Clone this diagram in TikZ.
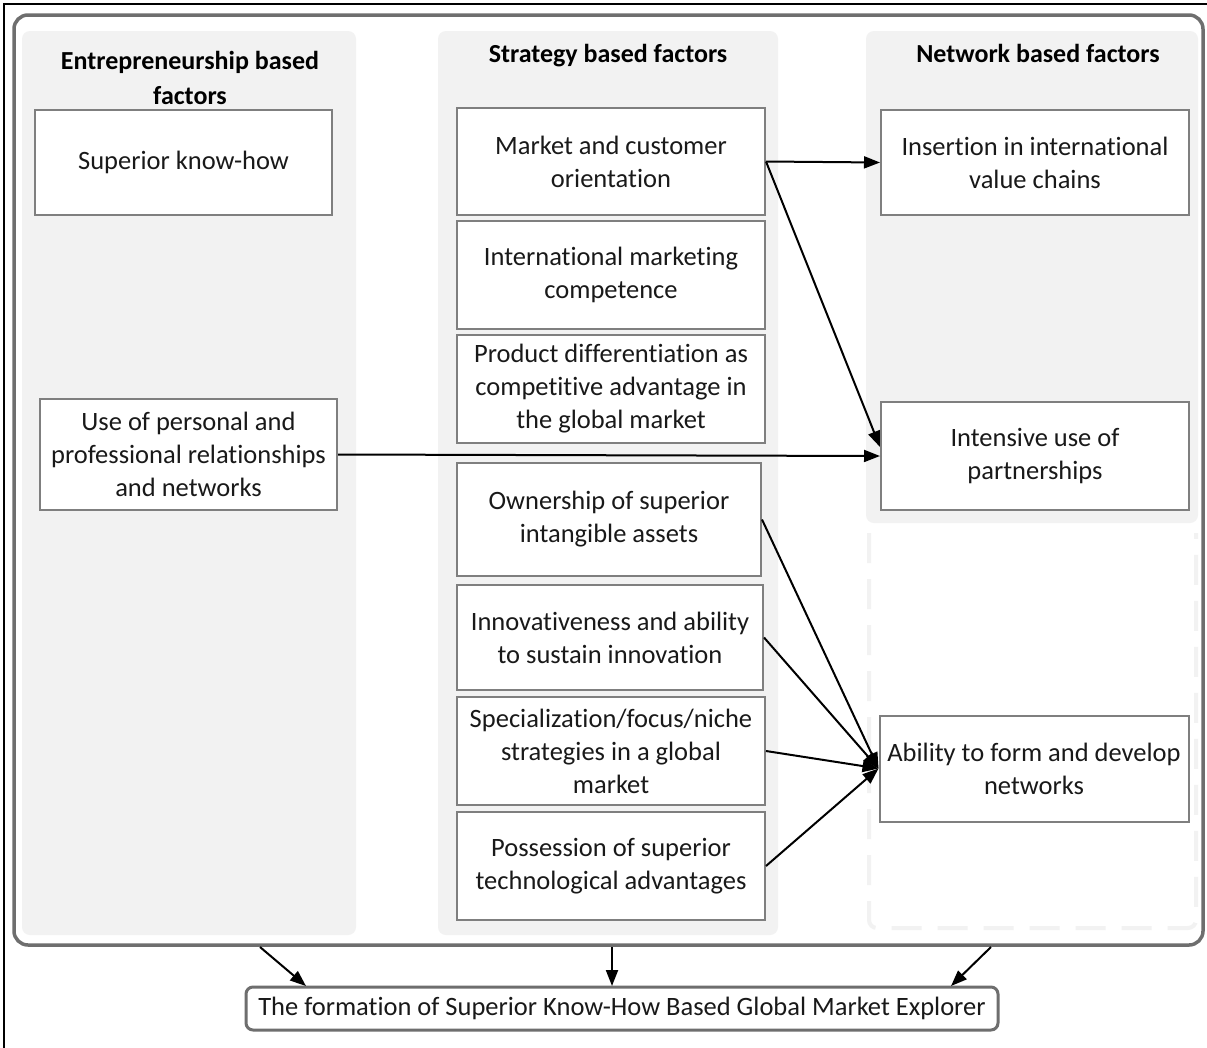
\documentclass[tikz,border=0pt]{standalone}
\usepackage{fontspec}
\setmainfont[Ligatures=NoCommon]{Carlito}
\usetikzlibrary{arrows.meta,calc}
\definecolor{colgray}{HTML}{F2F2F2}
\definecolor{boxgray}{HTML}{7F7F7F}
\definecolor{framegray}{HTML}{6E6E6E}
\begin{document}
\begin{tikzpicture}[x=1pt,y=-1pt,
  factor/.style={draw=boxgray, line width=2pt, fill=white, align=center,
    inner sep=0pt, text=black!90, font=\fontsize{26.5}{33}\selectfont},
  column/.style={fill=colgray, rounded corners=8pt},
  head/.style={align=center, font=\bfseries\fontsize{26}{35}\selectfont},
  link/.style={-{Triangle[length=16pt,width=12pt]}, line width=2pt},
  result/.style={draw=framegray, line width=3pt, rounded corners=7pt, fill=white,
    inner sep=0pt, text=black!90, font=\fontsize{26.5}{30}\selectfont}]
\clip (0,0) rectangle (1207,1047);
\useasboundingbox (0,0) rectangle (1207,1047);
\fill[white] (0,0) rectangle (1207,1047);
% outer border
\draw[black, line width=1.6pt] (4,1060) -- (4,4) -- (1220,4);
% main rounded frame
\draw[framegray, line width=3.5pt, rounded corners=14pt] (14,15) rectangle (1203,945);
% column backgrounds
\fill[column] (22,31) rectangle (356,935);
\fill[column] (438,31) rectangle (778,935);
\fill[column] (866,31) rectangle (1198,523);
\draw[colgray, line width=4pt, dash pattern=on 30pt off 16pt, rounded corners=8pt]
  (869,533) -- (869,928) -- (1196,928) -- (1196,533);
% column headings
\node[head] (hL) at (190,78) {Entrepreneurship based\\factors};
\node[head] (hM) at (608,56) {Strategy based factors};
\node[head] (hR) at (1038,53) {Network based factors};
% entrepreneurship based factors
\node[factor, minimum width=297pt, minimum height=105pt] (know) at (183.5,162.5) {Superior know-how};
\node[factor, minimum width=297pt, minimum height=111pt] (personal) at (188.5,454.5)
  {Use of personal and\\professional relationships\\and networks};
% strategy based factors
\node[factor, minimum width=308pt, minimum height=107pt] (market) at (611,161.5) {Market and customer\\orientation};
\node[factor, minimum width=308pt, minimum height=108pt] (intl) at (611,275) {International marketing\\competence};
\node[factor, minimum width=308pt, minimum height=108pt] (prod) at (611,389) {Product differentiation as\\competitive advantage in\\the global market};
\node[factor, minimum width=304pt, minimum height=113pt] (own) at (609,519.5) {Ownership of superior\\intangible assets};
\node[factor, minimum width=306pt, minimum height=105pt] (innov) at (610,637.5) {Innovativeness and ability\\to sustain innovation};
\node[factor, minimum width=308pt, minimum height=108pt] (spec) at (611,751) {Specialization/focus/niche\\strategies in a global\\market};
\node[factor, minimum width=308pt, minimum height=108pt] (poss) at (611,866) {Possession of superior\\technological advantages};
% network based factors
\node[factor, minimum width=308pt, minimum height=105pt] (insert) at (1035,162.5) {Insertion in international\\value chains};
\node[factor, minimum width=308pt, minimum height=108pt] (intensive) at (1035,456) {Intensive use of\\partnerships};
\node[factor, minimum width=309pt, minimum height=106pt] (ability) at (1034,768.5) {Ability to form and develop\\networks};
% outcome
\node[result, minimum width=752pt, minimum height=43pt] (outcome) at (622,1008.5)
  {The formation of Superior Know-How Based Global Market Explorer};
% links between factors
\draw[link] (market.east) -- (insert.west);
\draw[link] (market.east) -- ($(intensive.west)+(0,-9)$);
\draw[link] (personal.east) -- (intensive.west);
\draw[link] (own.east) -- (ability.west);
\draw[link] (innov.east) -- (ability.west);
\draw[link] (spec.east) -- (ability.west);
\draw[link] (poss.east) -- (ability.west);
% links from the frame to the outcome
\coordinate (fL) at (260,947);
\coordinate (fM) at (612,947);
\coordinate (fR) at (991,947);
\draw[link] (fL) -- (306,986);
\draw[link] (fM) -- (612,986);
\draw[link] (fR) -- (951,986);
\end{tikzpicture}
\end{document}
